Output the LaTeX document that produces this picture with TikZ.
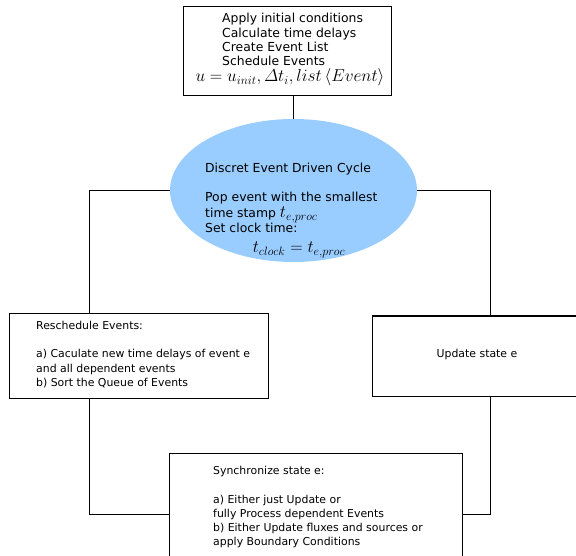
\documentclass[tikz,border=0pt]{standalone}
\usepackage[no-math]{fontspec}
\setmainfont{DejaVu Sans}
\usetikzlibrary{shapes.geometric}
\definecolor{ellblue}{HTML}{99CCFF}
\tikzset{
  boxshape/.style={draw=black, line width=1pt, rectangle, inner sep=0pt},
  bigtxt/.style={anchor=base west, inner sep=0pt, font=\fontsize{12.4}{14.5}\selectfont},
  smalltxt/.style={anchor=base west, inner sep=0pt, font=\fontsize{10.9}{14.5}\selectfont},
  mathtxt/.style={anchor=base, inner sep=0pt, font=\fontsize{17.28}{18}\selectfont},
  conn/.style={draw=black, line width=1pt}
}
\begin{document}
\begin{tikzpicture}[x=1pt,y=-1pt]
\clip (0,0) rectangle (576,556);
\useasboundingbox (0,0) rectangle (576,556);
% shapes
\node[boxshape, minimum width=208pt, minimum height=89pt] (top) at (287,51.5) {};
\node[ellipse, fill=ellblue, draw=none, inner sep=0pt, minimum width=247pt, minimum height=143pt] (ell) at (293.5,190.5) {};
\node[boxshape, minimum width=259pt, minimum height=84pt] (lbox) at (138.5,356) {};
\node[boxshape, minimum width=236pt, minimum height=80pt] (rbox) at (490,356) {};
\node[boxshape, minimum width=293pt, minimum height=122pt] (bbox) at (315.5,514) {};
\coordinate (lx) at (89,0);
% connectors
\draw[conn] (ell.north |- top.south) -- (ell.north);
\draw[conn] (ell.west) -| (lbox.north -| lx);
\draw[conn] (ell.east) -| (rbox.north);
\draw[conn] (lbox.south -| lx) |- (bbox.west);
\draw[conn] (rbox.south) |- (bbox.east);
% top box text
\node[bigtxt] (t1) at (222,23) {Apply initial conditions};
\node[bigtxt] (t2) at (222,37.5) {Calculate time delays};
\node[bigtxt] (t3) at (222,52) {Create Event List};
\node[bigtxt] (t4) at (222,66) {Schedule Events};
\node[mathtxt] (t5) at (290,81.5) {$u=u_{init},\mathnormal{\Delta} t_i,list\left<Event\right>$};
% ellipse text
\node[bigtxt] (e1) at (205,172.5) {Discret Event Driven Cycle};
\node[bigtxt] (e2) at (205,202) {Pop event with the smallest};
\node[bigtxt] (e3) at (205,218) {time stamp {\fontsize{17.28}{18}\selectfont$t_{e,proc}$}};
\node[bigtxt] (e4) at (205,232.5) {Set clock time:};
\node[mathtxt] (e5) at (299,252.5) {$t_{clock}=t_{e,proc}$};
% left box text
\node[smalltxt] (l1) at (36,329) {Reschedule Events:};
\node[smalltxt] (l2) at (36,357.5) {a) Caculate new time delays of event e};
\node[smalltxt] (l3) at (36,372) {and all dependent events};
\node[smalltxt] (l4) at (36,386.5) {b) Sort the Queue of Events};
% right box text
\node[smalltxt, anchor=base] (r1) at (477,357) {Update state e};
% bottom box text
\node[smalltxt] (b1) at (213,474) {Synchronize state e:};
\node[smalltxt] (b2) at (213,503) {a) Either just Update or};
\node[smalltxt] (b3) at (213,517) {fully Process dependent Events};
\node[smalltxt] (b4) at (213,531.5) {b) Either Update fluxes and sources or};
\node[smalltxt] (b5) at (213,545.5) {apply Boundary Conditions};
\end{tikzpicture}
\end{document}
